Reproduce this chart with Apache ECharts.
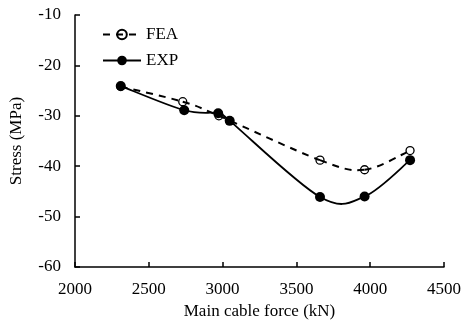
<!DOCTYPE html>
<html><head><meta charset="utf-8">
<script src="https://cdn.jsdelivr.net/npm/echarts@6/dist/echarts.min.js"></script>
<style>html,body{margin:0;padding:0;background:#fff}#c{width:464px;height:325px}</style>
</head><body><div id="c"></div>
<script>
const feaX = [2310, 2730, 2975, 3660, 3962, 4270];
const feaY = [-24.2, -27.2, -30.0, -38.8, -40.7, -36.9];
const expX = [2310, 2740, 2970, 3048, 3660, 3962, 4270];
const expY = [-24.1, -28.9, -29.5, -31.0, -46.1, -46.0, -38.8];
const xTicks = [2000, 2500, 3000, 3500, 4000, 4500];
const yTicks = [-60, -50, -40, -30, -20, -10];
const font = 'Liberation Serif, Times New Roman, serif';
const FS = 17;

// Excel-style smoothed segment between point i and i+1, in pixel space
function smoothSeg(xs, ys, lineStyle) {
  return function (params, api) {
    const i = params.dataIndex;
    const n = xs.length;
    if (i >= n - 1) return null;
    const P = k => api.coord([xs[Math.max(0, Math.min(n - 1, k))], ys[Math.max(0, Math.min(n - 1, k))]]);
    const p0 = P(i - 1), p1 = P(i), p2 = P(i + 1), p3 = P(i + 2);
    return {
      type: 'bezierCurve',
      shape: {
        x1: p1[0], y1: p1[1], x2: p2[0], y2: p2[1],
        cpx1: p1[0] + (p2[0] - p0[0]) / 6, cpy1: p1[1] + (p2[1] - p0[1]) / 6,
        cpx2: p2[0] - (p3[0] - p1[0]) / 6, cpy2: p2[1] - (p3[1] - p1[1]) / 6
      },
      style: Object.assign({fill: null, stroke: '#000'}, lineStyle)
    };
  };
}

const chart = echarts.init(document.getElementById('c'));
chart.setOption({
  animation: false,
  textStyle: {fontFamily: font},
  grid: {left: 75, right: 17, top: 15, bottom: 55},
  legend: {
    orient: 'vertical', left: 102, top: 26, padding: 0, itemWidth: 38, itemHeight: 12, itemGap: 9,
    textStyle: {fontFamily: font, fontSize: FS, color: '#000'},
    data: [
      {name: 'FEA', lineStyle: {opacity: 1, color: '#000', width: 2, type: [7, 6]}},
      {name: 'EXP', lineStyle: {opacity: 1, color: '#000', width: 1.8, type: 'solid'}}
    ]
  },
  xAxis: {
    type: 'value', min: xTicks[0], max: xTicks[xTicks.length-1], interval: 500,
    name: 'Main cable force (kN)', nameLocation: 'middle', nameGap: 36,
    nameTextStyle: {fontFamily: font, fontSize: FS, color: '#000'},
    axisLine: {lineStyle: {color: '#000', width: 1.5}},
    axisTick: {inside: true, length: 5, lineStyle: {color: '#000', width: 1.5}},
    axisLabel: {fontFamily: font, fontSize: FS, color: '#000', margin: 14, formatter: v => String(v)},
    splitLine: {show: false}
  },
  yAxis: {
    type: 'value', min: yTicks[0], max: yTicks[yTicks.length-1], interval: 10,
    name: 'Stress (MPa)', nameLocation: 'middle', nameGap: 50,
    nameTextStyle: {fontFamily: font, fontSize: FS, color: '#000'},
    axisLine: {show: true, lineStyle: {color: '#000', width: 1.5}},
    axisTick: {show: true, inside: true, length: 5, lineStyle: {color: '#000', width: 1.5}},
    axisLabel: {fontFamily: font, fontSize: FS, color: '#000', margin: 14, formatter: v => String(v)},
    splitLine: {show: false}
  },
  series: [
    {
      name: 'FEA curve', type: 'custom', silent: true, z: 3,
      data: feaX.map((x, i) => [x, feaY[i]]),
      renderItem: smoothSeg(feaX, feaY, {lineWidth: 2, lineDash: [7, 6]})
    },
    {
      name: 'EXP curve', type: 'custom', silent: true, z: 2,
      data: expX.map((x, i) => [x, expY[i]]),
      renderItem: smoothSeg(expX, expY, {lineWidth: 1.8})
    },
    {
      name: 'FEA', type: 'line',
      data: feaX.map((x, i) => [x, feaY[i]]),
      symbol: 'circle', symbolSize: 8,
      lineStyle: {opacity: 0},
      itemStyle: {color: 'rgba(255,255,255,0)', borderColor: '#000', borderWidth: 1.3},
      z: 4
    },
    {
      name: 'EXP', type: 'line',
      data: expX.map((x, i) => [x, expY[i]]),
      symbol: 'circle', symbolSize: 10,
      lineStyle: {opacity: 0},
      itemStyle: {color: '#000'},
      z: 2
    }
  ]
});
</script></body></html>
